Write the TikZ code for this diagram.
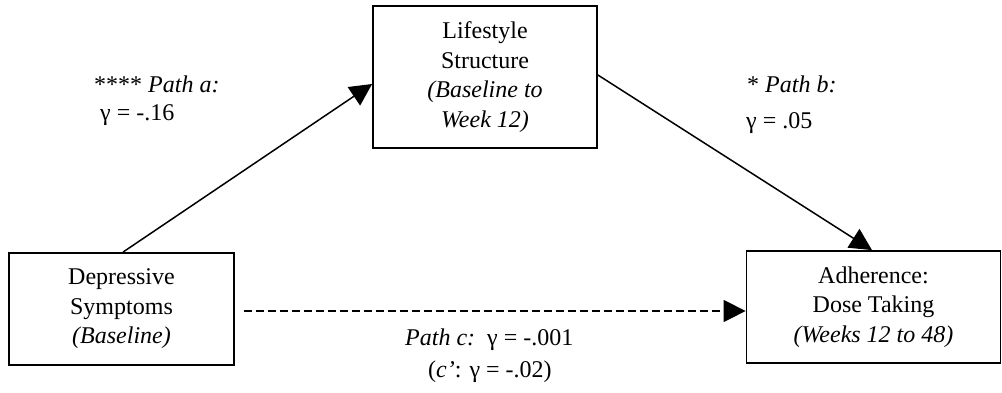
\documentclass[tikz,border=0pt]{standalone}
\usepackage{fontspec}
\setmainfont{Liberation Serif}
\usetikzlibrary{arrows.meta}
\begin{document}
\begin{tikzpicture}[x=1pt,y=-1pt,
  box/.style={draw,line width=1.8pt,align=center,inner sep=0pt,font=\fontsize{24}{29.5}\selectfont},
  conn/.style={line width=1.5pt,-{Triangle[length=22pt,width=22pt]}},
  lbl/.style={anchor=base west,inner sep=0pt,font=\fontsize{24}{29.5}\selectfont}]
\useasboundingbox (0,0) rectangle (1002,392);
\node[box,minimum width=224pt,minimum height=142pt] (life) at (485,77)
  {Lifestyle\\Structure\\\textit{(Baseline to}\\\textit{Week 12)}};
\node[box,minimum width=225pt,minimum height=112pt] (dep) at (121.5,309)
  {Depressive\\Symptoms\\\textit{(Baseline)}};
\node[box,minimum width=254pt,minimum height=112pt] (adh) at (873.5,307)
  {Adherence:\\Dose Taking\\\textit{(Weeks 12 to 48)}};
\draw[conn] ([xshift=1.5pt]dep.north) -- ([yshift=-7pt]life.west);
\draw[conn] ([yshift=2pt]life.east) -- ([xshift=-1.5pt]adh.north);
\draw[conn,dash pattern=on 8pt off 4pt] ([xshift=9pt,yshift=-2pt]dep.east) -- ([yshift=-4pt]adh.west);
\node[lbl] (la1) at (94,92) {**** \textit{Path a:}};
\node[lbl] (la2) at (100,120) {γ = -.16};
\node[lbl] (lb1) at (747,92) {* \textit{Path b:}};
\node[lbl] (lb2) at (746,128) {γ = .05};
\node[lbl] (lc1) at (405,345) {\textit{Path c:}\ \ γ = -.001};
\node[lbl] (lc2) at (428,377) {(\textit{c’}: γ = -.02)};
\end{tikzpicture}
\end{document}
